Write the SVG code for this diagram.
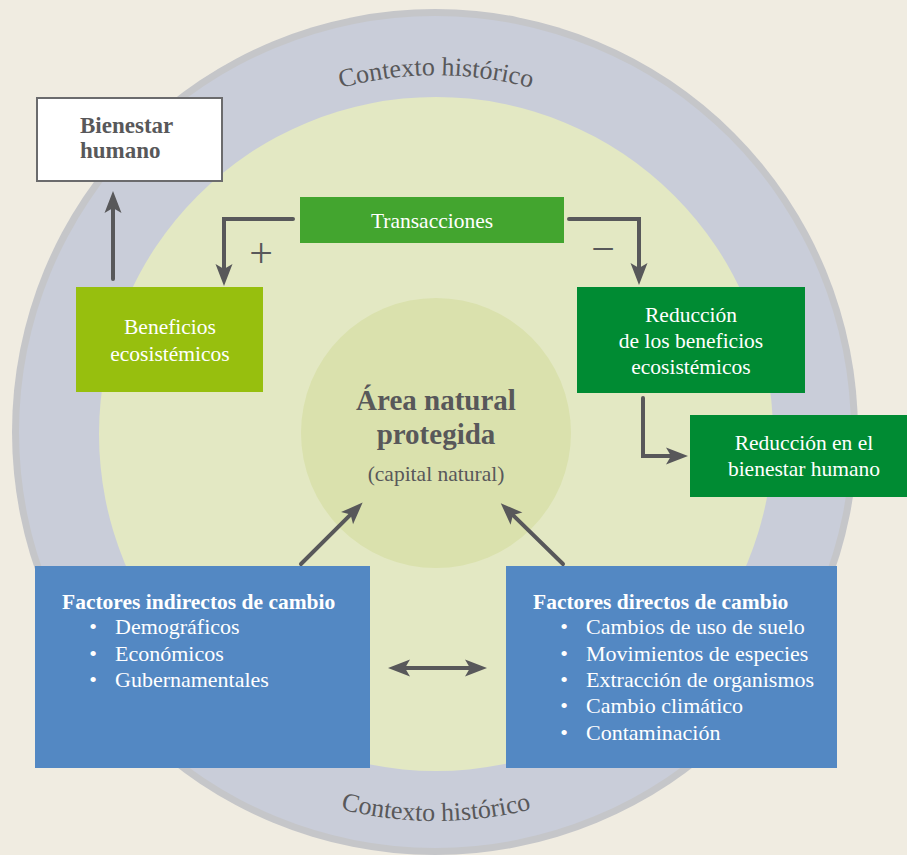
<svg xmlns="http://www.w3.org/2000/svg" width="907" height="855" viewBox="0 0 907 855">
  <style>
    .serif { font-family: "Liberation Serif", "DejaVu Serif", serif; }
    .gray { fill: #58585a; }
    .white { fill: #ffffff; }
    .lbl { font-size: 21.5px; }
    .list { font-size: 22px; }
    .bold { font-weight: bold; }
    .conn { fill: none; stroke: #58585a; stroke-width: 4; stroke-linecap: round; stroke-linejoin: miter; }
    .arrow { marker-end: url(#ah); }
  </style>
  <defs>
    <marker id="ah" viewBox="-24 -10 26 20" refX="-16" refY="0" markerWidth="26" markerHeight="20" markerUnits="userSpaceOnUse" orient="auto-start-reverse">
      <path d="M0,0 L-22,-8.5 L-17,0 L-22,8.5 Z" fill="#58585a"/>
    </marker>
    <path id="arcTop" d="M 78,433 A 358,358 0 0 1 794,433"/>
    <path id="arcBottom" d="M 48,433 A 388,388 0 0 0 824,433"/>
  </defs>

  <!-- background -->
  <rect x="0" y="0" width="907" height="855" fill="#f0ece1"/>

  <!-- concentric context rings -->
  <g id="context-ring">
    <circle cx="435" cy="432" r="423" fill="#c5c6c9"/>
    <circle cx="435" cy="432" r="416" fill="#c9cdd9"/>
    <text class="serif gray" font-size="26"><textPath href="#arcTop" startOffset="50%" text-anchor="middle">Contexto histórico</textPath></text>
    <text class="serif gray" font-size="26"><textPath href="#arcBottom" startOffset="50%" text-anchor="middle">Contexto histórico</textPath></text>
  </g>
  <circle cx="436" cy="434" r="337" fill="#e3e8c3"/>

  <!-- protected natural area -->
  <g id="area-natural">
    <circle cx="436" cy="433" r="135" fill="#dae1ad"/>
    <text class="serif gray bold" font-size="29" x="436" y="410" text-anchor="middle">Área natural</text>
    <text class="serif gray bold" font-size="29" x="436" y="444" text-anchor="middle">protegida</text>
    <text class="serif gray" font-size="21.5" x="436" y="481" text-anchor="middle">(capital natural)</text>
  </g>

  <g id="bienestar-humano">
    <rect x="37" y="98" width="185" height="83" fill="#ffffff" stroke="#6b6b6d" stroke-width="2"/>
    <text class="serif gray bold" font-size="23" x="80" y="133">Bienestar</text>
    <text class="serif gray bold" font-size="23" x="80" y="158">humano</text>
  </g>

  <g id="transacciones">
    <rect x="300" y="197" width="264" height="46" fill="#43a52f"/>
    <text class="serif white lbl" x="432" y="228" text-anchor="middle">Transacciones</text>
  </g>

  <g id="beneficios">
    <rect x="76" y="287" width="187" height="105" fill="#97bf0e"/>
    <text class="serif white lbl" x="170" y="334" text-anchor="middle">Beneficios</text>
    <text class="serif white lbl" x="170" y="361" text-anchor="middle">ecosistémicos</text>
  </g>

  <g id="reduccion-beneficios">
    <rect x="577" y="287" width="228" height="106" fill="#008b33"/>
    <text class="serif white lbl" x="691" y="322" text-anchor="middle">Reducción</text>
    <text class="serif white lbl" x="691" y="348" text-anchor="middle">de los beneficios</text>
    <text class="serif white lbl" x="691" y="374" text-anchor="middle">ecosistémicos</text>
  </g>

  <g id="reduccion-bienestar">
    <rect x="690" y="415" width="217" height="82" fill="#008b33"/>
    <text class="serif white lbl" x="804" y="450" text-anchor="middle">Reducción en el</text>
    <text class="serif white lbl" x="804" y="476" text-anchor="middle">bienestar humano</text>
  </g>

  <g id="factores-indirectos">
    <rect x="35" y="566" width="335" height="202" fill="#5388c3"/>
    <text class="serif white bold" font-size="21.5" x="62" y="609">Factores indirectos de cambio</text>
    <g class="serif white list">
      <text x="93" y="634" text-anchor="middle">•</text>
      <text x="115" y="634">Demográficos</text>
      <text x="93" y="660.5" text-anchor="middle">•</text>
      <text x="115" y="660.5">Económicos</text>
      <text x="93" y="687" text-anchor="middle">•</text>
      <text x="115" y="687">Gubernamentales</text>
    </g>
  </g>

  <g id="factores-directos">
    <rect x="506" y="566" width="331" height="202" fill="#5388c3"/>
    <text class="serif white bold" font-size="21.5" x="533" y="609">Factores directos de cambio</text>
    <g class="serif white list">
      <text x="564" y="634" text-anchor="middle">•</text>
      <text x="586" y="634">Cambios de uso de suelo</text>
      <text x="564" y="660.5" text-anchor="middle">•</text>
      <text x="586" y="660.5">Movimientos de especies</text>
      <text x="564" y="687" text-anchor="middle">•</text>
      <text x="586" y="687">Extracción de organismos</text>
      <text x="564" y="713" text-anchor="middle">•</text>
      <text x="586" y="713">Cambio climático</text>
      <text x="564" y="739.5" text-anchor="middle">•</text>
      <text x="586" y="739.5">Contaminación</text>
    </g>
  </g>

  <!-- connectors -->
  <g id="connectors">
    <path class="conn arrow" d="M 113,279 V 207"/>
    <path class="conn arrow" d="M 293,219 H 224 V 270"/>
    <path class="conn arrow" d="M 569,219 H 639 V 269"/>
    <path class="conn arrow" d="M 643,398 V 456 H 672"/>
    <path class="conn arrow" d="M 301,564 L 351.3,513.9"/>
    <path class="conn arrow" d="M 563,564 L 512.2,514.4"/>
    <path class="conn" d="M 404,668 H 471" marker-start="url(#ah)" marker-end="url(#ah)"/>
    <text class="serif gray" font-size="42" x="261" y="266.5" text-anchor="middle">+</text>
    <text class="serif gray" font-size="42" x="603" y="263" text-anchor="middle">−</text>
  </g>
</svg>
